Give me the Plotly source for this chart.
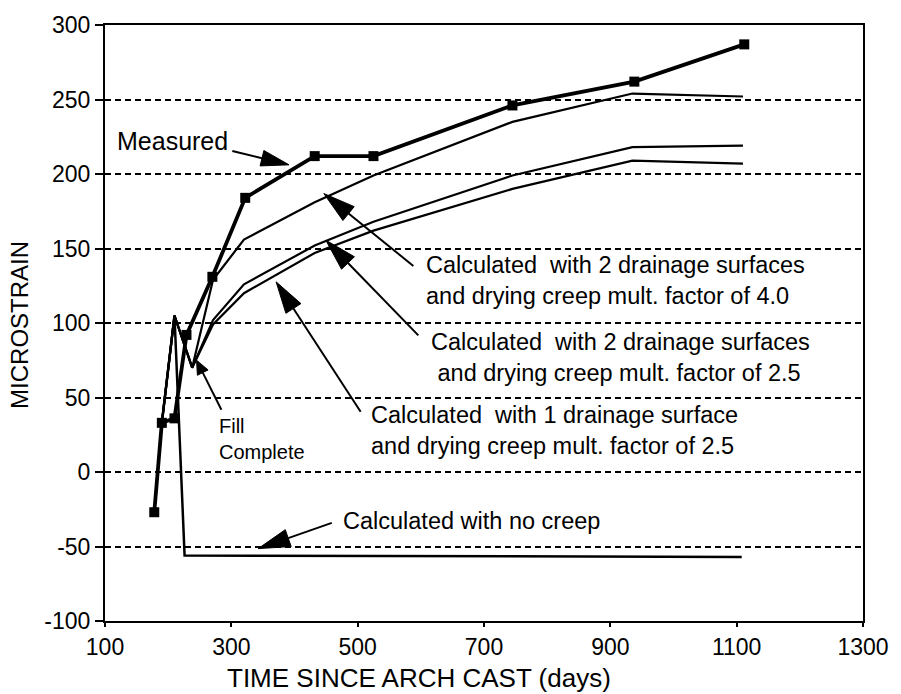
import math
import plotly.graph_objects as go

# Measured strain history
meas_days = [178, 190, 210, 229, 270, 322, 432, 525, 745, 938, 1112]
meas_strain = [-27, 33, 36, 92, 131, 184, 212, 212, 246, 262, 287]

# Calculated strain histories
calc_days = [190, 210, 238, 271, 320, 432, 525, 745, 935, 1110]
calc_2surf_40 = [33, 105, 70, 129, 156, 181, 199, 235, 254, 252]
calc_2surf_25 = [33, 105, 70, 102, 126, 152, 168, 199, 218, 219]
calc_1surf_25 = [33, 105, 70, 99, 120, 147, 162, 190, 209, 207]

nocreep_days = [190, 210, 226, 1108]
nocreep_strain = [33, 105, -56, -57]

# Axis ranges and ticks
x_range = [100, 1300]
y_range = [-100, 300]
x_ticks = [100, 300, 500, 700, 900, 1100, 1300]
y_ticks = [-100, -50, 0, 50, 100, 150, 200, 250, 300]
y_ticktext = ["-100", "-50", "0", "50", "100", "150", "200", "250", "300"]

# Plot-area geometry (pixels)
W, H = 901, 694
PL, PR, PT, PB = 105, 867, 20, 621

FONT = "Liberation Sans, Arial, Helvetica, sans-serif"


def px2x(px):
    return x_range[0] + (px - PL) * (x_range[1] - x_range[0]) / (PR - PL)


def py2y(py):
    return y_range[1] - (py - PT) * (y_range[1] - y_range[0]) / (PB - PT)


def px2paper(px):
    return (px - PL) / (PR - PL)


def py2paper(py):
    return (PB - py) / (PB - PT)


fig = go.Figure()

line_style = dict(color="black", width=2.2)
fig.add_trace(go.Scatter(x=calc_days, y=calc_2surf_40, mode="lines", line=line_style))
fig.add_trace(go.Scatter(x=calc_days, y=calc_2surf_25, mode="lines", line=line_style))
fig.add_trace(go.Scatter(x=calc_days, y=calc_1surf_25, mode="lines", line=line_style))
fig.add_trace(go.Scatter(x=nocreep_days, y=nocreep_strain, mode="lines",
                         line=dict(color="black", width=2.5)))
fig.add_trace(go.Scatter(x=meas_days, y=meas_strain, mode="lines+markers",
                         line=dict(color="black", width=3.8),
                         marker=dict(symbol="square", size=10, color="black")))

shapes = []


def arrow(tail, tip, head_len=28, head_half=8, width=2):
    """Straight leader line ending in a long filled triangular head (pixel input)."""
    (tx, ty), (hx, hy) = tail, tip
    d = math.hypot(hx - tx, hy - ty)
    ux, uy = (hx - tx) / d, (hy - ty) / d
    bx, by = hx - ux * head_len, hy - uy * head_len
    nx, ny = -uy, ux
    shapes.append(dict(type="line", xref="x", yref="y",
                       x0=px2x(tx), y0=py2y(ty), x1=px2x(bx), y1=py2y(by),
                       line=dict(color="black", width=width)))
    pts = [(hx, hy), (bx + nx * head_half, by + ny * head_half),
           (bx - nx * head_half, by - ny * head_half)]
    path = "M " + " L ".join(f"{px2x(a):.3f},{py2y(b):.3f}" for a, b in pts) + " Z"
    shapes.append(dict(type="path", xref="x", yref="y", path=path,
                       fillcolor="black", line=dict(color="black", width=1)))


arrow((233, 147), (290, 161))
arrow((415, 263), (325, 190), head_len=32, head_half=9)
arrow((420, 333), (327, 237), head_len=32, head_half=9)
arrow((362, 410), (277, 279), head_len=32, head_half=9)
arrow((333, 522), (259, 548), head_len=32, head_half=9)
arrow((222, 408), (197, 358), head_len=14, head_half=6)

annotations = []


def label(text, x_px, center_py, size=23, anchor="left", align="left"):
    annotations.append(dict(text=text, xref="paper", yref="paper",
                            x=px2paper(x_px), y=py2paper(center_py),
                            xanchor=anchor, yanchor="middle", align=align,
                            showarrow=False,
                            font=dict(family=FONT, size=size, color="black")))


label("Measured", 115, 137, size=25)
label("Calculated  with 2 drainage surfaces<br>and drying creep mult. factor of 4.0",
      426, 278, size=23.5)
label("Calculated  with 2 drainage surfaces<br>&nbsp;and drying creep mult. factor of 2.5",
      431, 355, size=23.5)
label("Calculated  with 1 drainage surface<br>and drying creep mult. factor of 2.5",
      370, 429, size=23.5)
label("Calculated with no creep", 342, 520, size=23.5)
label("Fill<br>Complete", 218, 437, size=20)

# Axis titles
label("TIME SINCE ARCH CAST (days)", 421, 678, size=26, anchor="center")
annotations.append(dict(text="MICROSTRAIN", xref="paper", yref="paper", textangle=-90,
                        x=px2paper(19), y=py2paper(322), xanchor="center",
                        yanchor="middle", showarrow=False,
                        font=dict(family=FONT, size=24, color="black")))

axis_common = dict(showline=True, linecolor="black", linewidth=2, mirror=True,
                   ticks="outside", tickcolor="black", tickwidth=2,
                   tickfont=dict(family=FONT, size=23, color="black"),
                   zeroline=False)

fig.update_layout(
    width=W, height=H,
    margin=dict(l=PL, r=W - PR, t=PT, b=H - PB),
    paper_bgcolor="white", plot_bgcolor="white",
    showlegend=False,
    shapes=shapes, annotations=annotations,
    xaxis=dict(range=x_range, tickvals=x_ticks, ticklen=4, showgrid=False,
               **axis_common),
    yaxis=dict(range=y_range, tickvals=y_ticks, ticktext=y_ticktext, ticklen=8,
               showgrid=True, gridcolor="black", gridwidth=2, griddash="6px,4px",
               **axis_common),
)

fig.write_html("out.html")
